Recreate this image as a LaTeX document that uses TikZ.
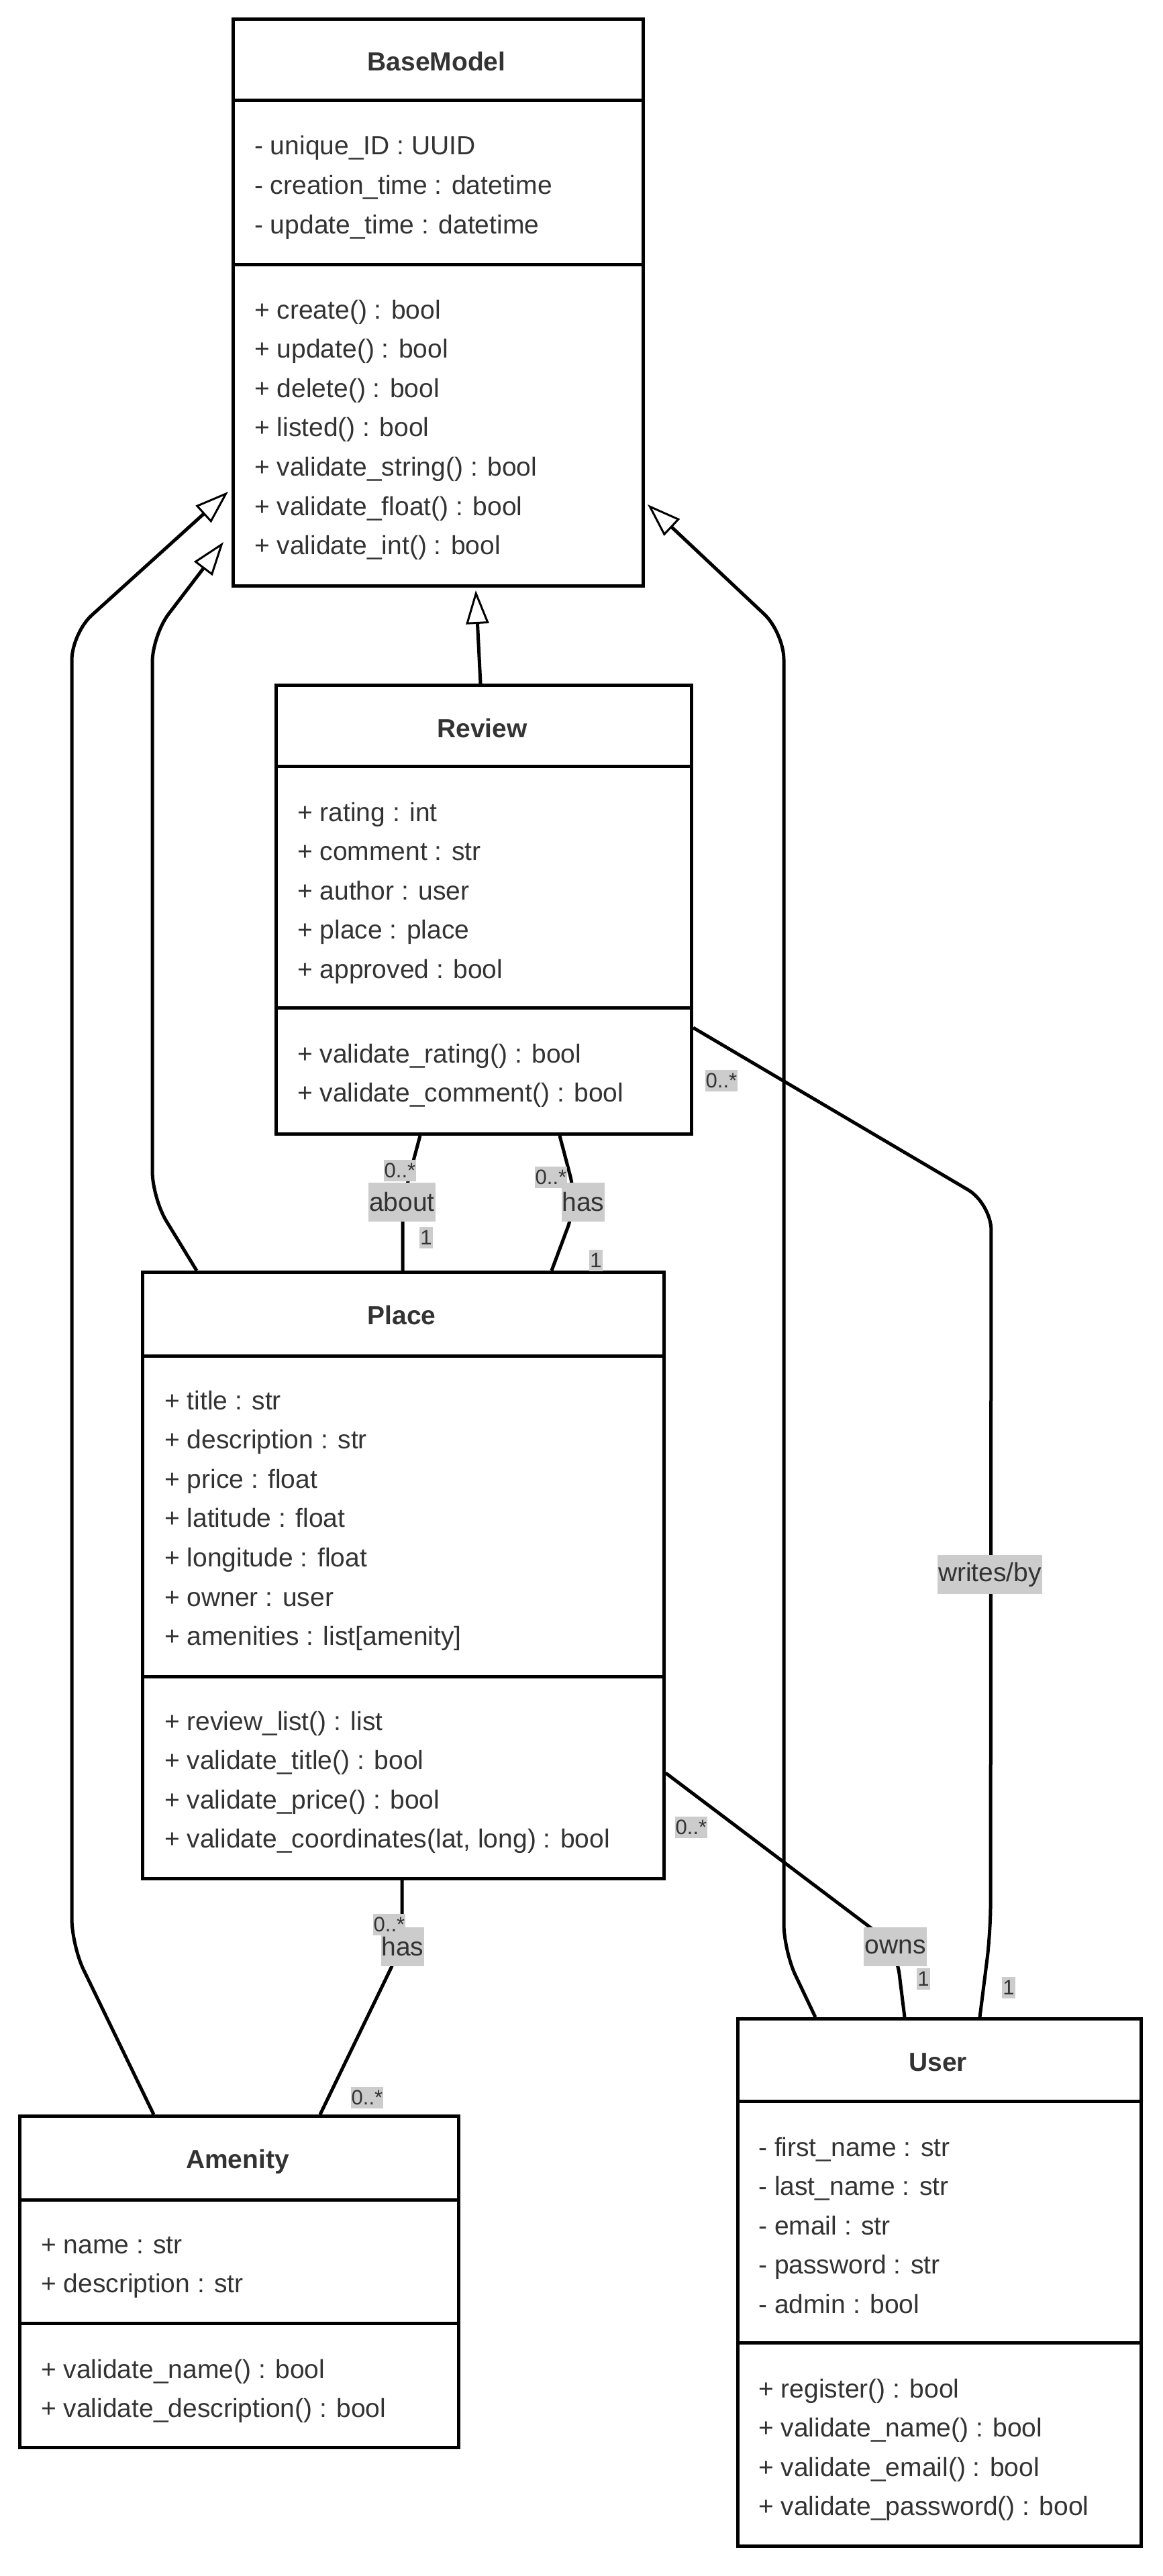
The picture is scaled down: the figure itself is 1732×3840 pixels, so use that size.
\documentclass[tikz,border=0pt]{standalone}
\usepackage{fontspec}
\setmainfont{Liberation Sans}
\usetikzlibrary{arrows.meta}
\definecolor{textgray}{HTML}{333333}
\definecolor{labelgray}{HTML}{CCCCCC}

\tikzset{
  umlbox/.style={draw=black, line width=5pt, fill=white, inner sep=0pt},
  sepline/.style={draw=black, line width=5pt},
  member/.style={anchor=base west, inner sep=0pt, text=textgray},
  classtitle/.style={anchor=base, inner sep=0pt, text=textgray, font=\fontsize{39}{47}\selectfont\bfseries},
  genline/.style={draw=black, line width=5pt, rounded corners=40pt,
    -{Triangle[length=50pt, width=34pt, fill=white, line width=3pt]}},
  assoc/.style={draw=black, line width=5pt, rounded corners=40pt},
  lbl/.style={fill=labelgray, text=textgray, inner xsep=1pt, inner ysep=0pt, minimum height=58pt},
  mult/.style={fill=labelgray, text=textgray, inner xsep=1pt, inner ysep=0pt, minimum height=32pt,
    font=\fontsize{31}{37}\selectfont},
}

% name, left, top, width, height, header divider y, member divider y, title
\newcommand\umlclass[8]{%
  \node[umlbox, minimum width=#4pt, minimum height=#5pt, anchor=north west] (#1) at (#2,#3) {};
  \draw[sepline] (#2,#6) -- ++(#4,0);
  \draw[sepline] (#2,#7) -- ++(#4,0);
  \node[classtitle] (#1-title) at ({#2+#4/2},{#3+80}) {#8};
}
% prefix, text left, centre of first row, rows
\newcommand\umlrows[4]{%
  \foreach \rowtxt [count=\k] in {#4} {
    \node[member] (#1-\k) at (#2,{#3+(\k-1)*58.6+14}) {\rowtxt};
  }
}

\begin{document}
\begin{tikzpicture}[x=1pt, y=-1pt, font=\fontsize{39}{47}\selectfont]
\fill[white] (0,0) rectangle (1732,3840);
\useasboundingbox (0,0) rectangle (1732,3840);

% ---------- classes ----------
\umlclass{base}{345}{26}{611}{845}{150}{394}{BaseModel}
\umlrows{base-a}{379}{217}{{- unique\_ID : UUID},{- creation\_time : datetime},{- update\_time : datetime}}
\umlrows{base-m}{379}{461}{{+ create() : bool},{+ update() : bool},{+ delete() : bool},{+ listed() : bool},{+ validate\_string() : bool},{+ validate\_float() : bool},{+ validate\_int() : bool}}

\umlclass{review}{409}{1019}{619}{669}{1142}{1502}{Review}
\umlrows{review-a}{443}{1210}{{+ rating : int},{+ comment : str},{+ author : user},{+ place : place},{+ approved : bool}}
\umlrows{review-m}{443}{1570}{{+ validate\_rating() : bool},{+ validate\_comment() : bool}}

\umlclass{place}{210}{1894}{777}{904}{2021}{2499}{Place}
\umlrows{place-a}{245}{2087}{{+ title : str},{+ description : str},{+ price : float},{+ latitude : float},{+ longitude : float},{+ owner : user},{+ amenities : list[amenity]}}
\umlrows{place-m}{245}{2565}{{+ review\_list() : list},{+ validate\_title() : bool},{+ validate\_price() : bool},{+ validate\_coordinates(lat, long) : bool}}

\umlclass{amenity}{27}{3152}{654}{494}{3279}{3463}{Amenity}
\umlrows{amenity-a}{61}{3345}{{+ name : str},{+ description : str}}
\umlrows{amenity-m}{61}{3531}{{+ validate\_name() : bool},{+ validate\_description() : bool}}

\umlclass{user}{1097}{3007}{601}{786}{3132}{3492}{User}
\umlrows{user-a}{1130}{3200}{{- first\_name : str},{- last\_name : str},{- email : str},{- password : str},{- admin : bool}}
\umlrows{user-m}{1130}{3560}{{+ register() : bool},{+ validate\_name() : bool},{+ validate\_email() : bool},{+ validate\_password() : bool}}

% ---------- generalizations ----------
\draw[genline] ([xshift=202pt]amenity.north west) -- (107,2900) -- (107,944)
  -- ([xshift=-5pt,yshift=-707pt]base.north west);
\draw[genline] ([xshift=83pt]place.north west) -- (227,1786) -- (227,947)
  -- ([xshift=-12pt,yshift=-782pt]base.north west);
\draw[genline] ([xshift=307pt]review.north west) -- ([xshift=364pt,yshift=-4pt]base.south west);
\draw[genline] ([xshift=118pt]user.north west) -- (1168,2908) -- (1168,943)
  -- ([xshift=4pt,yshift=-726pt]base.north east);

% ---------- associations ----------
\draw[assoc] ([yshift=-513pt]review.north east) -- (1477,1794) -- (1476,2880)
  -- ([xshift=363pt]user.north west);
\draw[assoc] ([xshift=217pt]review.south west) -- (600,1790) -- ([xshift=390pt]place.north west);
\draw[assoc] ([xshift=425pt]review.south west) -- (860,1792) -- ([xshift=612pt]place.north west);
\draw[assoc] ([yshift=-749pt]place.north east) -- (1335,2902) -- ([xshift=251pt]user.north west);
\draw[assoc] ([xshift=389pt]place.south west) -- (599,2900) -- ([xshift=450pt]amenity.north west);

% ---------- association labels ----------
\node[lbl] (writes) at (1475,2347) {writes/by};
\node[lbl] (about) at (599,1792) {about};
\node[lbl] (hasrev) at (869,1792) {has};
\node[lbl] (owns) at (1334,2902) {owns};
\node[lbl] (hasam) at (600,2902) {has};

% ---------- multiplicities ----------
\node[mult] (writes-m1) at (1075,1611) {0..*};
\node[mult] (writes-m2) at (1503,2963) {1};
\node[mult] (about-m1) at (596,1745) {0..*};
\node[mult] (about-m2) at (635,1845) {1};
\node[mult] (hasrev-m1) at (821,1755) {0..*};
\node[mult] (hasrev-m2) at (888,1879) {1};
\node[mult] (owns-m1) at (1030,2724) {0..*};
\node[mult] (owns-m2) at (1376,2950) {1};
\node[mult] (hasam-m1) at (580,2869) {0..*};
\node[mult] (hasam-m2) at (547,3127) {0..*};
\end{tikzpicture}
\end{document}
